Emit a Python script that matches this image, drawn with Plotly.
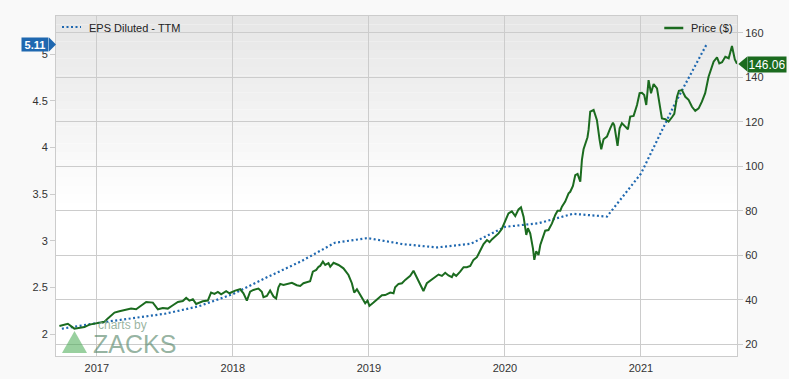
import plotly.graph_objects as go

# ---------------- data ----------------
price_x = [2016.725, 2016.787, 2016.835, 2016.909, 2016.946, 2017.019, 2017.056, 2017.081, 2017.13, 2017.166,
           2017.215, 2017.252, 2017.289, 2017.326, 2017.363, 2017.412, 2017.449, 2017.485, 2017.522, 2017.559,
           2017.596, 2017.632, 2017.657, 2017.681, 2017.706, 2017.73, 2017.779, 2017.816, 2017.84, 2017.865,
           2017.89, 2017.914, 2017.951, 2017.975, 2018.017, 2018.054, 2018.078, 2018.103, 2018.127, 2018.151,
           2018.188, 2018.213, 2018.225, 2018.25, 2018.274, 2018.299, 2018.318, 2018.335, 2018.348, 2018.372,
           2018.409, 2018.434, 2018.47, 2018.495, 2018.519, 2018.556, 2018.568, 2018.588, 2018.613, 2018.63,
           2018.642, 2018.662, 2018.679, 2018.703, 2018.716, 2018.74, 2018.777, 2018.813, 2018.85, 2018.875,
           2018.892, 2018.912, 2018.936, 2018.956, 2018.973, 2018.99, 2019.004, 2019.034, 2019.059, 2019.096,
           2019.12, 2019.157, 2019.181, 2019.193, 2019.218, 2019.243, 2019.267, 2019.304, 2019.328, 2019.34,
           2019.365, 2019.401, 2019.426, 2019.463, 2019.488, 2019.512, 2019.537, 2019.561, 2019.585, 2019.61,
           2019.622, 2019.642, 2019.671, 2019.696, 2019.72, 2019.745, 2019.769, 2019.794, 2019.818, 2019.843,
           2019.868, 2019.887, 2019.904, 2019.929, 2019.953, 2019.978, 2020.002, 2020.026, 2020.051, 2020.076,
           2020.1, 2020.118, 2020.137, 2020.157, 2020.169, 2020.186, 2020.206, 2020.216, 2020.23, 2020.247,
           2020.26, 2020.28, 2020.296, 2020.32, 2020.346, 2020.37, 2020.387, 2020.407, 2020.419, 2020.443,
           2020.468, 2020.48, 2020.5, 2020.517, 2020.534, 2020.554, 2020.566, 2020.578, 2020.607, 2020.615,
           2020.627, 2020.652, 2020.676, 2020.696, 2020.708, 2020.725, 2020.75, 2020.774, 2020.794, 2020.804,
           2020.828, 2020.843, 2020.86, 2020.885, 2020.904, 2020.921, 2020.946, 2020.971, 2020.99, 2021.007,
           2021.024, 2021.039, 2021.056, 2021.074, 2021.093, 2021.118, 2021.137, 2021.154, 2021.179, 2021.203,
           2021.228, 2021.245, 2021.265, 2021.279, 2021.301, 2021.326, 2021.35, 2021.375, 2021.399, 2021.424,
           2021.448, 2021.472, 2021.497, 2021.522, 2021.534, 2021.559, 2021.576, 2021.596, 2021.62, 2021.645,
           2021.669, 2021.69, 2021.706]
price_y = [28.2, 29.2, 27.0, 27.7, 28.8, 29.7, 30.1, 31.6, 34.2, 34.8,
           35.4, 36.0, 35.7, 37.2, 39.0, 38.7, 35.7, 36.3, 36.0, 37.5,
           39.0, 39.4, 40.8, 39.6, 40.2, 38.1, 39.3, 39.6, 43.2, 42.6,
           43.5, 42.4, 43.8, 42.9, 44.1, 44.7, 42.9, 39.6, 43.6, 44.4,
           45.0, 43.6, 41.1, 41.7, 44.1, 41.4, 40.5, 45.6, 47.1, 46.6,
           47.4, 47.6, 46.5, 46.2, 47.4, 48.1, 48.3, 52.6, 53.4, 54.8,
           55.2, 57.1, 55.6, 56.4, 54.8, 56.6, 55.6, 54.1, 51.1, 47.4,
           43.2, 44.7, 42.1, 39.9, 38.4, 39.6, 37.2, 38.7, 39.9, 42.0,
           42.1, 43.2, 42.9, 45.6, 47.1, 47.4, 48.9, 50.7, 53.0, 51.6,
           48.1, 43.9, 47.4, 49.2, 50.1, 51.3, 50.7, 52.1, 50.9, 50.1,
           51.6, 50.7, 52.6, 54.6, 54.6, 55.2, 57.9, 59.1, 62.0, 65.0,
           66.8, 65.9, 67.1, 68.3, 69.8, 71.9, 75.1, 78.8, 79.7, 77.6,
           80.6, 81.5, 77.3, 69.1, 72.1, 69.8, 63.1, 57.9, 61.8, 60.1,
           64.6, 68.6, 71.0, 71.3, 74.3, 78.1, 80.0, 80.0, 81.8, 84.1,
           87.8, 88.5, 91.1, 96.0, 96.5, 93.0, 102.8, 107.6, 113.0, 116.3,
           124.5, 125.3, 120.8, 111.8, 107.6, 112.1, 113.3, 117.0, 119.6, 118.4,
           109.1, 117.0, 119.3, 117.8, 116.6, 122.3, 122.6, 127.5, 132.8, 133.0,
           132.0, 127.5, 138.7, 132.8, 136.9, 135.0, 128.3, 121.5, 121.1, 120.0,
           122.0, 123.5, 131.2, 133.9, 134.2, 131.2, 129.8, 126.7, 124.9, 126.0,
           129.0, 132.8, 140.2, 145.5, 147.0, 148.9, 146.2, 146.7, 149.2, 148.5,
           154.0, 148.0, 146.06]

eps_x = [2016.743, 2017.0, 2017.25, 2017.5, 2017.75, 2018.0, 2018.25, 2018.5, 2018.75, 2018.99,
         2019.25, 2019.5, 2019.75, 2020.0, 2020.25, 2020.5, 2020.75, 2021.0, 2021.25, 2021.485]
eps_y = [2.06, 2.12, 2.17, 2.22, 2.30, 2.43, 2.61, 2.78, 2.98, 3.03,
         2.965, 2.93, 2.97, 3.15, 3.19, 3.29, 3.26, 3.72, 4.47, 5.11]

year_ticks = [2017, 2018, 2019, 2020, 2021]
year_labels = ["2017", "2018", "2019", "2020", "2021"]
eps_ticks = [2, 2.5, 3, 3.5, 4, 4.5, 5]
eps_labels = ["2", "2.5", "3", "3.5", "4", "4.5", "5"]
price_ticks = [20, 40, 60, 80, 100, 120, 140, 160]

eps_last = "5.11"
price_last = "146.06"

# ---------------- figure ----------------
GREEN = "#1b6b1f"
BLUE = "#1f68b0"
GRID = "#cccccc"
FONT = "Arial, Liberation Sans, sans-serif"

L, R, T, B = 56, 736.7, 16, 356
PW, PH = R - L, B - T


def px(x):
    return (x - L) / PW


def py(y):
    return (B - y) / PH


fig = go.Figure()
fig.add_trace(go.Scatter(x=eps_x, y=eps_y, mode="lines", name="EPS Diluted - TTM",
                         line=dict(color=BLUE, width=2.2, dash="2px,2.5px"), yaxis="y",
                         hoverinfo="skip"))
fig.add_trace(go.Scatter(x=price_x, y=price_y, mode="lines", name="Price ($)",
                         line=dict(color=GREEN, width=2), yaxis="y2", hoverinfo="skip"))

shapes = []
# background gradient (top grey -> white)
N = 40
for i in range(N):
    t = i / (N - 1)
    g = int(round(230 + (255 - 230) * min(1.0, t / 0.55)))
    shapes.append(dict(type="rect", xref="paper", yref="paper", layer="below",
                       x0=0, x1=1, y0=1 - (i + 1) / N, y1=1 - i / N,
                       fillcolor=f"rgb({g},{g},{g})", line=dict(width=0)))

# legend samples
shapes.append(dict(type="line", xref="paper", yref="paper", x0=px(62), x1=px(81),
                   y0=py(27), y1=py(27), line=dict(color=BLUE, width=2.2, dash="2px,2.5px")))
shapes.append(dict(type="line", xref="paper", yref="paper", x0=px(664), x1=px(683),
                   y0=py(28), y1=py(28), line=dict(color=GREEN, width=2.5)))

# value-label pointers
shapes.append(dict(type="path", xref="paper", yref="paper",
                   path=f"M {px(49)} {py(37.5)} L {px(56)} {py(44.5)} L {px(49)} {py(51.5)} Z",
                   fillcolor=BLUE, line=dict(width=0)))
shapes.append(dict(type="path", xref="paper", yref="paper",
                   path=f"M {px(747)} {py(56.5)} L {px(738)} {py(64)} L {px(747)} {py(71.5)} Z",
                   fillcolor=GREEN, line=dict(width=0)))

# watermark triangle
shapes.append(dict(type="path", xref="paper", yref="paper",
                   path=f"M {px(62)} {py(353)} L {px(74.5)} {py(331)} L {px(87)} {py(353)} Z",
                   fillcolor="rgba(70,170,80,0.55)", line=dict(width=0)))

annotations = [
    dict(text="EPS Diluted - TTM", xref="paper", yref="paper", x=px(87), y=py(28.5),
         xanchor="left", yanchor="middle", showarrow=False, font=dict(family=FONT, size=11, color="#222")),
    dict(text="Price ($)", xref="paper", yref="paper", x=px(689), y=py(28.5),
         xanchor="left", yanchor="middle", showarrow=False, font=dict(family=FONT, size=11, color="#222")),
    dict(text="<b>" + eps_last + "</b>", xref="paper", yref="paper", x=px(49.5), y=py(44.5),
         xanchor="right", yanchor="middle", showarrow=False, bgcolor=BLUE, borderpad=1,
         font=dict(family=FONT, size=11, color="white"), width=24, height=11),
    dict(text=price_last, xref="paper", yref="paper", x=px(746.5), y=py(64),
         xanchor="left", yanchor="middle", showarrow=False, bgcolor=GREEN, borderpad=1,
         font=dict(family=FONT, size=12, color="white"), width=36, height=13),
    dict(text="charts by", xref="paper", yref="paper", x=px(96), y=py(324.5),
         xanchor="left", yanchor="middle", showarrow=False,
         font=dict(family=FONT, size=12, color="rgba(120,155,130,0.75)")),
    dict(text="ZACKS", xref="paper", yref="paper", x=px(91), y=py(343.5),
         xanchor="left", yanchor="middle", showarrow=False,
         font=dict(family=FONT, size=25, color="rgba(80,130,100,0.6)")),
]

fig.update_layout(
    width=789, height=379,
    margin=dict(l=56, r=52, t=16, b=23),
    paper_bgcolor="#f9f9f9",
    plot_bgcolor="white",
    showlegend=False,
    font=dict(family=FONT, size=11, color="#333"),
    shapes=shapes,
    annotations=annotations,
    xaxis=dict(range=[2016.70, 2021.706], tickvals=year_ticks, ticktext=year_labels,
               showgrid=True, gridcolor=GRID, gridwidth=1, zeroline=False,
               showline=True, linecolor=GRID, mirror=True, ticks="", ticklabelstandoff=2,
               tickfont=dict(size=11, color="#333"), automargin=False),
    yaxis=dict(range=[1.768, 5.407], tickvals=eps_ticks, ticktext=eps_labels, showgrid=False,
               zeroline=False, showline=True, linecolor=GRID, ticks="outside", ticklen=5, tickcolor=GRID,
               tickfont=dict(size=11, color="#333"), automargin=False),
    yaxis2=dict(range=[14.7, 167.5], tickvals=price_ticks, overlaying="y", side="right",
                showgrid=True, gridcolor=GRID, gridwidth=1, zeroline=False,
                showline=True, linecolor=GRID, ticks="outside", ticklen=5, tickcolor=GRID,
                tickfont=dict(size=11, color="#333"), automargin=False),
)

fig.write_html("out.html", config={"displayModeBar": False},
               post_script="document.body.style.margin='0';document.body.style.background='#f9f9f9';")
